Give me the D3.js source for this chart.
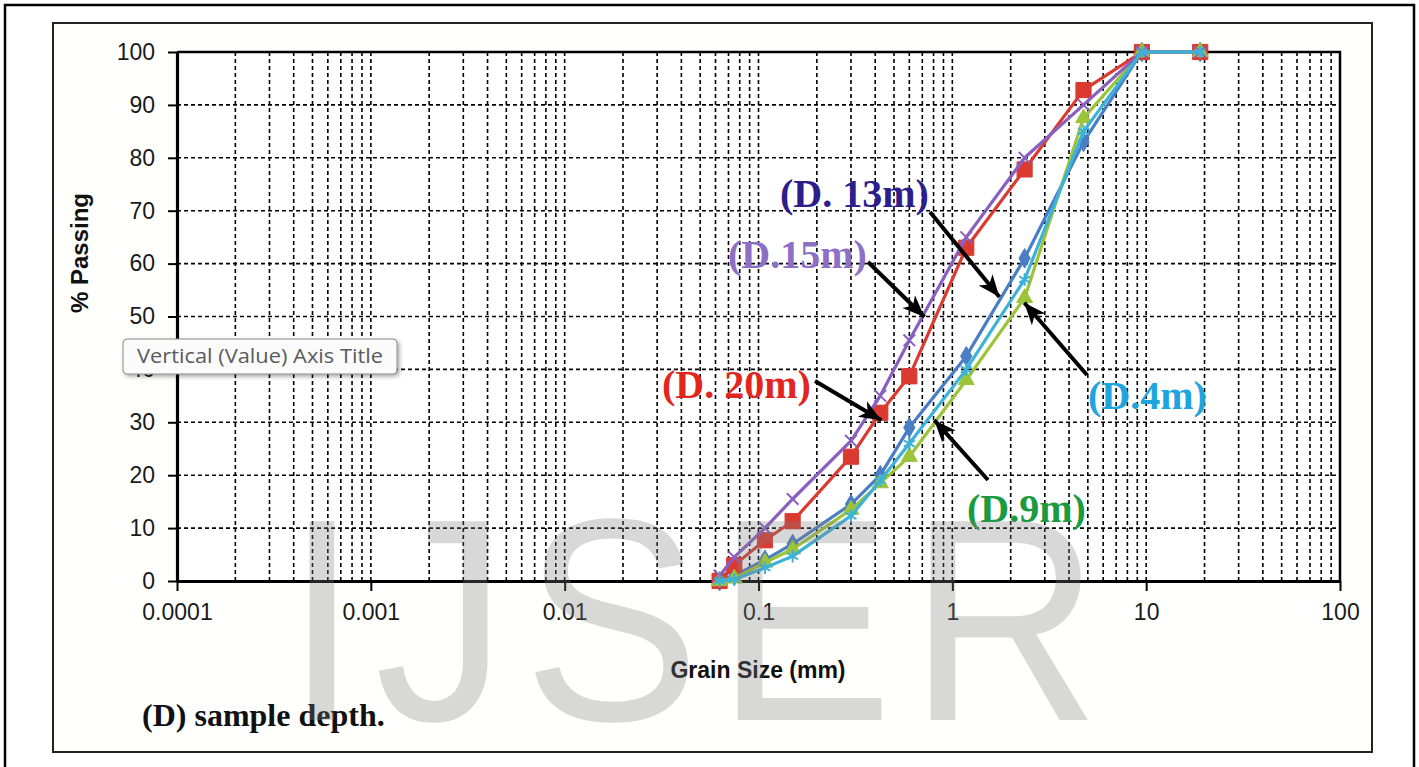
<!DOCTYPE html>
<html><head><meta charset="utf-8">
<script src="https://cdn.jsdelivr.net/npm/d3@7"></script>
<style>body{margin:0;background:#fff}svg{display:block}</style>
</head><body><svg id="c" width="1419" height="767"></svg>
<script>
// ---------- DATA ----------
const sieveSizes = [0.063, 0.075, 0.108, 0.15, 0.3, 0.425, 0.6, 1.18, 2.36, 4.75, 9.5, 19];
const passBlue   = [0, 1, 4, 7, 14.5, 20, 29, 42.5, 61, 83, 100, 100];
const passRed    = [0, 3, 7.7, 11.3, 23.5, 31.8, 38.7, 63, 77.8, 92.8, 100, 100];
const passGreen  = [0, 0.5, 3.5, 6, 13.5, 18.5, 23.5, 38, 53.5, 87.5, 100, 100];
const passPurple = [1, 4.5, 10, 15.5, 26.5, 35, 45.5, 65, 80, 90, 100, 100];
const passCyan   = [0, 0.3, 2.5, 4.7, 12.3, 19, 26, 40, 57, 85, 100, 100];
const yTicks = [0, 10, 20, 30, 40, 50, 60, 70, 80, 90, 100];
const xTicks = [0.0001, 0.001, 0.01, 0.1, 1, 10, 100];
const xTickLabels = ["0.0001", "0.001", "0.01", "0.1", "1", "10", "100"];
const labelTexts = ["(D. 13m)", "(D.15m)", "(D. 20m)", "(D.4m)", "(D.9m)"];
// arrow tips in data coordinates (grain size, % passing)
const arrowTipSize = [1.75, 0.718, 0.43, 2.35, 0.807];
const arrowTipPass = [53.7, 49.9, 30.4, 52.6, 30.4];

// ---------- LAYOUT ----------
const svg = d3.select("#c");
const L = 177, R = 1340, T = 52, B = 581;
const x = d3.scaleLog().domain([0.0001, 100]).range([L, R]);
const y = d3.scaleLinear().domain([0, 100]).range([B, T]);

svg.append("rect").attr("width", 1419).attr("height", 767).attr("fill", "#fff");
// outer page frame
svg.append("rect").attr("x", 5).attr("y", 5).attr("width", 1409).attr("height", 800)
  .attr("fill", "none").attr("stroke", "#000").attr("stroke-width", 2.5);
// chart frame
svg.append("rect").attr("x", 53).attr("y", 23).attr("width", 1319).attr("height", 729)
  .attr("fill", "#fffffd").attr("stroke", "#222").attr("stroke-width", 2);
svg.append("rect").attr("x", L).attr("y", T).attr("width", R - L).attr("height", B - T)
  .attr("fill", "#fff");

// grid
const grid = svg.append("g").attr("stroke", "#000").attr("stroke-width", 1.6)
  .attr("stroke-dasharray", "4,3").attr("fill", "none");
const minorVals = [];
for (let k = -4; k <= 1; k++) for (let m = 1; m <= 9; m++) minorVals.push(m * Math.pow(10, k));
grid.selectAll("line.v").data(minorVals.filter(v => v > 0.0001 * 1.01)).join("line")
  .attr("x1", d => x(d)).attr("x2", d => x(d)).attr("y1", T).attr("y2", B);
grid.selectAll("line.h").data(yTicks.filter(v => v > 0 && v < 100)).join("line")
  .attr("x1", L).attr("x2", R).attr("y1", d => y(d)).attr("y2", d => y(d));

// plot border top/right
svg.append("path").attr("d", `M${L},${T}H${R}V${B}`).attr("fill", "none")
  .attr("stroke", "#000").attr("stroke-width", 2.5);

// axes
const yAxis = svg.append("g").attr("transform", `translate(${L},0)`)
  .call(d3.axisLeft(y).tickValues(yTicks).tickSize(9).tickPadding(13).tickSizeOuter(0));
const xAxis = svg.append("g").attr("transform", `translate(0,${B})`)
  .call(d3.axisBottom(x).tickValues(xTicks).tickSize(10).tickPadding(13).tickSizeOuter(0)
    .tickFormat((d, i) => xTickLabels[i]));
[yAxis, xAxis].forEach(a => {
  a.select(".domain").attr("stroke", "#000").attr("stroke-width", 3.2);
  a.selectAll(".tick line").attr("stroke", "#000").attr("stroke-width", 2);
  a.selectAll(".tick text").attr("font-family", "Liberation Sans, Arial, sans-serif")
    .attr("font-size", 23).attr("fill", "#1a1a1a");
});

// axis titles
svg.append("text").attr("x", 758).attr("y", 678).attr("text-anchor", "middle")
  .attr("font-family", "Liberation Sans, Arial, sans-serif").attr("font-weight", "bold")
  .attr("font-size", 23).attr("fill", "#111").text("Grain Size (mm)");
svg.append("text").attr("transform", "translate(88,253) rotate(-90)").attr("text-anchor", "middle")
  .attr("font-family", "Liberation Sans, Arial, sans-serif").attr("font-weight", "bold")
  .attr("font-size", 24).attr("fill", "#111").text("% Passing");

// series
const series = [
  {vals: passBlue,   color: "#4A7EC4", sym: d3.symbolDiamond, size: 110, stroke: false},
  {vals: passRed,    color: "#DA3A30", sym: d3.symbolSquare,  size: 230, stroke: false},
  {vals: passGreen,  color: "#9CC43A", sym: d3.symbolTriangle,size: 110, stroke: false},
  {vals: passPurple, color: "#8A5FC2", sym: d3.symbolX,       size: 90,  stroke: true},
  {vals: passCyan,   color: "#3CB2D8", sym: d3.symbolAsterisk,size: 110, stroke: true}
];
const line = d3.line().x(d => x(d[0])).y(d => y(d[1]));
series.forEach(s => {
  const pts = sieveSizes.map((v, i) => [v, s.vals[i]]);
  const g = svg.append("g");
  g.append("path").attr("d", line(pts)).attr("fill", "none")
    .attr("stroke", s.color).attr("stroke-width", 3.2).attr("stroke-linejoin", "round");
  g.selectAll("path.m").data(pts).join("path")
    .attr("transform", d => `translate(${x(d[0])},${y(d[1])})`)
    .attr("d", d3.symbol().type(s.sym).size(s.size))
    .attr("fill", s.stroke ? "none" : s.color)
    .attr("stroke", s.color).attr("stroke-width", s.stroke ? 2 : 1);
});

// annotations
const defs = svg.append("defs");
defs.append("marker").attr("id", "ah").attr("viewBox", "0 -10 24 20")
  .attr("refX", 22).attr("refY", 0).attr("markerWidth", 24).attr("markerHeight", 20)
  .attr("markerUnits", "userSpaceOnUse").attr("orient", "auto")
  .append("path").attr("d", "M0,-9 L22,0 L0,9 L6,0 Z").attr("fill", "#000");
const labelLayout = [
  {x: 780, y: 207, color: "#2D1E8C", tail: [930, 212]},
  {x: 728, y: 268, color: "#8E6FC6", tail: [868, 262]},
  {x: 662, y: 398, color: "#E2261F", tail: [815, 381]},
  {x: 1088, y: 409, color: "#1FA5DE", tail: [1087, 375]},
  {x: 967, y: 522, color: "#1C9A40", tail: [988, 480]}
];
labelTexts.forEach((t, i) => {
  const lay = labelLayout[i];
  const tx = x(arrowTipSize[i]), ty = y(arrowTipPass[i]);
  svg.append("line").attr("x1", lay.tail[0]).attr("y1", lay.tail[1])
    .attr("x2", tx).attr("y2", ty).attr("stroke", "#000").attr("stroke-width", 4)
    .attr("marker-end", "url(#ah)");
  svg.append("text").attr("x", lay.x).attr("y", lay.y)
    .attr("font-family", "Liberation Serif, Times New Roman, serif").attr("font-weight", "bold")
    .attr("font-size", 40).attr("fill", lay.color).text(t);
});

// footnote
svg.append("text").attr("x", 142).attr("y", 726)
  .attr("font-family", "Liberation Serif, Times New Roman, serif").attr("font-weight", "bold")
  .attr("font-size", 32).attr("fill", "#111").text("(D) sample depth.");

// watermark
svg.append("text").attr("transform", "translate(285,720) scale(0.917,1)")
  .attr("font-family", "Liberation Sans, Arial, sans-serif").attr("font-size", 289)
  .attr("letter-spacing", 17.5).attr("fill", "#7f7f7f").attr("fill-opacity", 0.3).text("IJSER");

// tooltip
const flt = defs.append("filter").attr("id", "sh").attr("x", "-10%").attr("y", "-30%")
  .attr("width", "130%").attr("height", "180%");
flt.append("feDropShadow").attr("dx", 2).attr("dy", 2).attr("stdDeviation", 2)
  .attr("flood-color", "#000").attr("flood-opacity", 0.35);
svg.append("rect").attr("x", 123).attr("y", 339).attr("width", 274).attr("height", 35)
  .attr("rx", 4).attr("fill", "#fbfbfb").attr("stroke", "#8a8a8a").attr("stroke-width", 1)
  .attr("filter", "url(#sh)");
svg.append("text").attr("x", 137).attr("y", 363).attr("font-family", "Open Sans, Noto Sans, sans-serif")
  .attr("font-size", 20).attr("fill", "#5a5a5a").attr("textLength", 246)
  .attr("lengthAdjust", "spacingAndGlyphs").text("Vertical (Value) Axis Title");
</script></body></html>
